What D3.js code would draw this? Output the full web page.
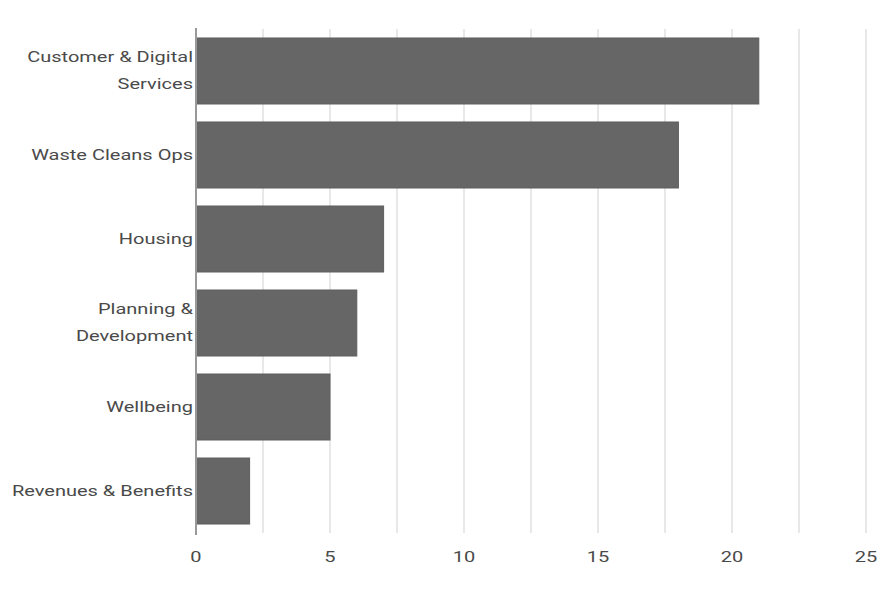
<!DOCTYPE html>
<html>
<head>
<meta charset="utf-8">
<script src="https://cdn.jsdelivr.net/npm/d3@7"></script>
<style>
body{margin:0;background:#fff;}
text{font-family:Roboto,"Noto Sans",sans-serif;}
</style>
</head>
<body>
<div id="chart"></div>
<script>
var categories = [["Customer & Digital","Services"],["Waste Cleans Ops"],["Housing"],["Planning &","Development"],["Wellbeing"],["Revenues & Benefits"]]
var values = [21,18,7,6,5,2]
var tickValues = [0,5,10,15,20,25]
var gridValues = [0,2.5,5,7.5,10,12.5,15,17.5,20,22.5,25]

var width = 887, height = 610
var stretch = 1.43 // the labels in the picture are drawn wide
var svg = d3.select("#chart").append("svg").attr("width",width).attr("height",height)

var x = d3.scaleLinear().domain([0,25]).range([196,866])
var y = d3.scaleBand().domain(d3.range(values.length)).range([29,533]).paddingInner(0.2143).paddingOuter(0.107)

// grid
svg.selectAll("line.grid").data(gridValues.slice(1)).enter().append("line")
	.attr("class","grid")
	.attr("x1",function(d){return x(d)}).attr("x2",function(d){return x(d)})
	.attr("y1",29).attr("y2",533)
	.attr("stroke","#e0e0e0").attr("stroke-width",1.5)

// bars
svg.selectAll("rect.bar").data(values).enter().append("rect")
	.attr("class","bar")
	.attr("x",x(0))
	.attr("y",function(d,i){return y(i)})
	.attr("width",function(d){return x(d)-x(0)})
	.attr("height",y.bandwidth())
	.attr("fill","#666666")
	.attr("stroke","#5e5e5e").attr("stroke-width",1)

// zero axis
svg.append("line")
	.attr("x1",x(0)).attr("x2",x(0))
	.attr("y1",28).attr("y2",535)
	.attr("stroke","#999").attr("stroke-width",2)

// category labels
var lineH = 27
categories.forEach(function(lines,i){
	var cy = y(i) + y.bandwidth()/2
	var t = svg.append("text")
		.attr("transform","translate(193,"+cy+") scale("+stretch+",1)")
		.attr("text-anchor","end")
		.attr("fill","#4a4a4a")
		.style("font-size","14px")
	lines.forEach(function(l,j){
		t.append("tspan")
			.attr("x",0)
			.attr("y",(j - (lines.length-1)/2)*lineH)
			.attr("dy","0.35em")
			.text(l)
	})
})

// x tick labels
svg.selectAll("text.tick").data(tickValues).enter().append("text")
	.attr("class","tick")
	.attr("transform",function(d){return "translate("+x(d)+",557) scale("+stretch+",1)"})
	.attr("dy","0.35em")
	.attr("text-anchor","middle")
	.attr("fill","#4a4a4a")
	.style("font-size","14px")
	.text(function(d){return d})
</script>
</body>
</html>
